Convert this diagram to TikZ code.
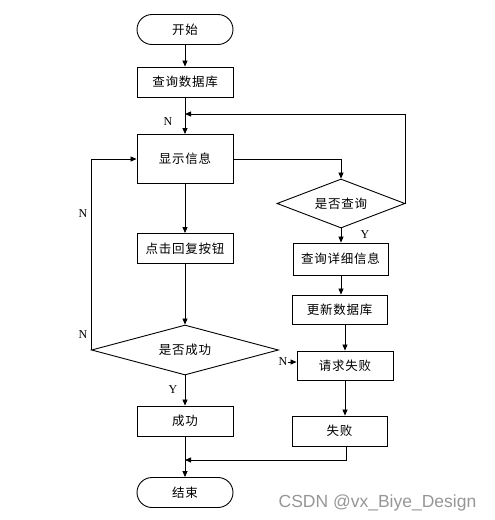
\documentclass[tikz,border=0pt]{standalone}
\usepackage{fontspec}
\setmainfont{Liberation Serif}
\newfontfamily\cjk[LetterSpace=6]{Noto Sans CJK SC}
\newfontfamily\wmfont{Liberation Sans}
\usetikzlibrary{shapes.geometric,arrows.meta}
\definecolor{wmgray}{RGB}{150,150,150}
\begin{document}
\begin{tikzpicture}[x=1pt,y=-1pt,
  box/.style={draw,line width=0.9pt,rectangle,minimum width=96pt,minimum height=30pt,inner sep=0pt,font=\cjk\fontsize{12.5}{14}\selectfont},
  term/.style={box,rounded corners=15pt},
  dia/.style={draw,line width=0.9pt,diamond,inner sep=0pt,font=\cjk\fontsize{12.5}{14}\selectfont},
  arr/.style={line width=0.8pt,-{Triangle[length=6pt,width=5pt]}},
  lab/.style={font=\fontsize{12}{14}\selectfont,inner sep=0pt}]
\useasboundingbox (0,0) rectangle (495,520);
\node[term] (start) at (185,29.5) {开始};
\node[box] (q1) at (185,82) {查询数据库};
\node[box,minimum height=49pt] (show) at (185,159) {显示信息};
\node[box] (click) at (185,248.5) {点击回复按钮};
\node[dia,aspect=3.74,minimum width=187pt,minimum height=50pt] (ds) at (185,350) {是否成功};
\node[box] (succ) at (185,421) {成功};
\node[term] (end) at (185,492.5) {结束};
\node[dia,aspect=2.6,minimum width=128pt,minimum height=49pt] (dq) at (341,203.5) {是否查询};
\node[box,minimum width=95pt,minimum height=32pt] (detail) at (340.5,259) {查询详细信息};
\node[box,minimum width=95pt,minimum height=29pt] (update) at (339.5,309.5) {更新数据库};
\node[box,minimum height=29pt] (fail1) at (345,365.5) {请求失败};
\node[box,minimum width=95pt] (fail2) at (339.5,431) {失败};
\coordinate (fb) at (185,114);
\coordinate (mg) at (185,460);
\coordinate (f2out) at (346,446);
\draw[arr] (start) -- (q1);
\draw[arr] (q1) -- (show);
\draw[arr] (show) -- (click);
\draw[arr] (click) -- (ds);
\draw[arr] (ds) -- (succ);
\draw[arr] (succ) -- (end);
\draw[arr] (show.east) -| (dq.north);
\draw[arr] (dq.east) |- (fb);
\draw[arr] (dq.south) -- (detail.north -| dq.south);
\draw[arr] (detail.south -| dq.south) -- (update.north -| dq.south);
\draw[arr] (fail1.north |- update.south) -- (fail1.north);
\draw[arr] (fail1.south) -- (fail1.south |- fail2.north);
\draw[arr] (f2out) |- (mg);
\draw[arr] (ds.west) |- (show.west);
\node[lab] (nfb) at (168,122) {N};
\node[lab] (nl1) at (83,214) {N};
\node[lab] (nl2) at (83,335) {N};
\node[lab] (yq) at (365,235) {Y};
\node[lab] (ys) at (173,390) {Y};
\node[lab] (nr) at (283,362) {N};
\draw[arr] (nr.east) -- (nr.east -| fail1.west);
\node[font=\wmfont\fontsize{17.5}{20}\selectfont,text=wmgray,anchor=base,inner sep=0pt] (wm) at (377.5,507) {CSDN @vx\_Biye\_Design};
\end{tikzpicture}
\end{document}
